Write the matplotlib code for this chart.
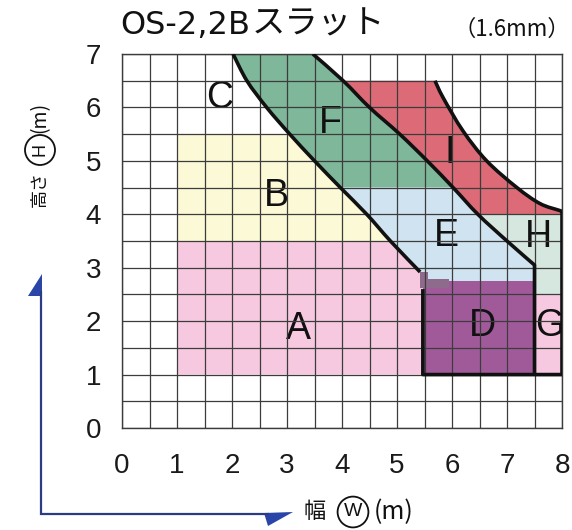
import matplotlib
matplotlib.use("Agg")
import matplotlib.pyplot as plt
from matplotlib.path import Path
from matplotlib.patches import PathPatch
import numpy as np

# ---- chart data (width W [m], height H [m]) ----
x_ticks = [0, 1, 2, 3, 4, 5, 6, 7, 8]
y_ticks = [0, 1, 2, 3, 4, 5, 6, 7]

# lower boundary curve (C/B/A side)
line1_x = [2.02, 2.27, 2.63, 3.05, 3.50, 3.97, 4.45, 4.88, 5.42]
line1_y = [7.00, 6.50, 6.00, 5.50, 5.00, 4.50, 4.00, 3.50, 2.92]
# middle boundary curve (F/E side)
line2_x = [3.47, 4.02, 4.50, 5.05, 5.55, 6.02, 6.47, 7.00, 7.50]
line2_y = [7.00, 6.50, 6.00, 5.50, 5.00, 4.50, 4.00, 3.50, 3.05]
# outer boundary curve (I side)
line3_x = [5.69, 5.84, 6.20, 6.63, 7.18, 7.60, 7.96, 8.00]
line3_y = [6.50, 6.18, 5.56, 5.00, 4.50, 4.20, 4.07, 4.05]

w_min, w_d, w_g, w_max = 1.0, 5.47, 7.5, 8.0
h_min, h_g, h_d, h_ab, h_i_bot, h_ef, h_b, h_i_top, h_max = (
    1.0, 2.5, 2.75, 3.5, 4.0, 4.5, 5.5, 6.5, 7.0)

labels = ["A", "B", "C", "D", "E", "F", "G", "H", "I"]
label_x = [3.20, 2.80, 1.78, 6.55, 5.90, 3.78, 7.77, 7.57, 5.96]
label_y = [1.85, 4.35, 6.18, 1.90, 3.60, 5.70, 1.90, 3.58, 5.15]

colors = {
    "A": "#f7c9e0", "B": "#fcf9d6", "D": "#a05a9a", "E": "#cfe3f1",
    "F": "#7eb799", "G": "#f7c9e0", "H": "#d5e7df", "I": "#dc6b77",
}


def smooth_segments(xs, ys):
    """Cubic Bezier pieces (Catmull-Rom) through the given points."""
    P = np.column_stack([xs, ys])
    n = len(P)
    out = []
    for i in range(n - 1):
        p0 = P[i - 1] if i > 0 else P[i]
        p1, p2 = P[i], P[i + 1]
        p3 = P[i + 2] if i + 2 < n else P[i + 1]
        out.append((p1, p1 + (p2 - p0) / 6, p2 - (p3 - p1) / 6, p2))
    return out


def pick(segs, lo, hi):
    return [s for s in segs if lo <= s[0][1] <= hi and lo <= s[3][1] <= hi]


def build_path(pieces, close=True):
    verts, codes = [], []

    def goto(p):
        verts.append(tuple(p))
        codes.append(Path.MOVETO if not codes else Path.LINETO)

    for kind, data in pieces:
        if kind == "pt":
            goto(data)
        else:
            segs, rev = data
            if rev:
                segs = [(s[3], s[2], s[1], s[0]) for s in segs[::-1]]
            goto(segs[0][0])
            for s in segs:
                verts.extend([tuple(s[1]), tuple(s[2]), tuple(s[3])])
                codes.extend([Path.CURVE4] * 3)
    if close:
        verts.append(verts[0])
        codes.append(Path.CLOSEPOLY)
    return Path(verts, codes)


s1 = smooth_segments(line1_x, line1_y)
s2 = smooth_segments(line2_x, line2_y)
s3 = smooth_segments(line3_x, line3_y)

regions = {
    "A": [("pt", (w_min, h_min)), ("pt", (w_d, h_min)), ("pt", (w_d, line1_y[-1])),
          ("c", (pick(s1, 0, h_ab), True)), ("pt", (w_min, h_ab))],
    "B": [("pt", (w_min, h_ab)), ("c", (pick(s1, h_ab, h_b), True)), ("pt", (w_min, h_b))],
    "F": [("c", (pick(s2, h_ef, h_max), False)), ("c", (pick(s1, h_ef, h_max), True))],
    "E": [("c", (pick(s1, 0, h_ef), False)), ("pt", (w_d, line1_y[-1])), ("pt", (w_d, h_d)),
          ("pt", (w_g, h_d)), ("c", (pick(s2, 0, h_ef), True))],
    "D": [("pt", (w_d, h_min)), ("pt", (w_g, h_min)), ("pt", (w_g, h_d)), ("pt", (w_d, h_d))],
    "I": [("c", (s3, False)), ("pt", (w_max, h_i_bot)),
          ("c", (pick(s2, h_i_bot, h_i_top), True))],
    "H": [("pt", (w_max, h_i_bot)), ("pt", (w_max, h_g)), ("pt", (w_g, h_g)),
          ("c", (pick(s2, 0, h_i_bot), True))],
    "G": [("pt", (w_g, h_min)), ("pt", (w_max, h_min)), ("pt", (w_max, h_g)), ("pt", (w_g, h_g))],
}

W, H = 572, 530
fig = plt.figure(figsize=(W / 100, H / 100), dpi=100)
fig.patch.set_facecolor("white")

x0px, x1px, ytop, ybot = 122, 562, 54, 428
ax = fig.add_axes([x0px / W, 1 - ybot / H, (x1px - x0px) / W, (ybot - ytop) / H])
ax.set_xlim(0, 8)
ax.set_ylim(0, 7)

for key, pieces in regions.items():
    ax.add_patch(PathPatch(build_path(pieces), fc=colors[key], ec="none", lw=0, zorder=0.5))

# small step where the A/E edge meets the D block
ax.fill([5.42, 5.56, 5.56, 5.95, 5.95, 5.42], [2.92, 2.92, 2.78, 2.78, 2.62, 2.62],
        color="#8e6a8c", lw=0, zorder=0.6)

# grid every 0.5 m
ax.set_xticks(x_ticks)
ax.set_yticks(y_ticks)
ax.set_xticks(np.arange(0, 8.01, 0.5), minor=True)
ax.set_yticks(np.arange(0, 7.01, 0.5), minor=True)
ax.grid(which="both", color="#3c3c3c", lw=0.9, zorder=1)
ax.set_axisbelow(False)
for s in ax.spines.values():
    s.set_color("#3c3c3c")
    s.set_linewidth(1.0)
ax.tick_params(which="both", length=0)
ax.tick_params(axis="x", pad=18, labelsize=20, labelcolor="#1a1a1a")
ax.tick_params(axis="y", pad=15, labelsize=20, labelcolor="#1a1a1a")
for lab in ax.get_xticklabels() + ax.get_yticklabels():
    lab.set_family("Liberation Sans")

# boundary lines
lk = dict(fc="none", ec="#111111", lw=2.6, capstyle="butt", joinstyle="round", zorder=3)
ax.add_patch(PathPatch(build_path([("c", (s1, False))], close=False), **lk))
ax.add_patch(PathPatch(build_path([("c", (s2, False)), ("pt", (w_g, h_min))], close=False), **lk))
ax.add_patch(PathPatch(build_path([("c", (s3, False)), ("pt", (w_max, h_min)),
                                   ("pt", (w_d, h_min)), ("pt", (w_d, 2.60))], close=False), **lk))

for t, x, y in zip(labels, label_x, label_y):
    ax.text(x, y, t, ha="center", va="center", fontsize=27,
            family="Liberation Sans", color="#111111", zorder=2, clip_on=True)

cjk = ["Noto Sans CJK JP", "DejaVu Sans"]
ink = "#111111"

# chart title: latin part, then katakana right after it
t1 = fig.text(120 / W, 1 - 34 / H, "OS-2,2B", family="DejaVu Sans", fontsize=23,
              ha="left", va="baseline", color=ink)
fig.canvas.draw()
bb = t1.get_window_extent()
fig.text((bb.x1 + 2) / W, 1 - 34 / H, "スラット", family=cjk, fontsize=24,
         ha="left", va="baseline", color=ink)
fig.text(570 / W, 1 - 36 / H, "（1.6mm）", family=cjk, fontsize=16,
         ha="right", va="baseline", color=ink)

# vertical axis title
circ_h = dict(boxstyle="circle,pad=0.36", fc="none", ec=ink, lw=1.3)
circ_w = dict(boxstyle="circle,pad=0.32", fc="none", ec=ink, lw=1.3)
fig.text(40 / W, 1 - 189 / H, "高さ", family=cjk, fontsize=13, rotation=90,
         ha="center", va="center", color=ink)
fig.text(40 / W, 1 - 150 / H, "H", family="Liberation Sans", fontsize=13, rotation=90,
         ha="center", va="center", color=ink, bbox=circ_h)
fig.text(40 / W, 1 - 117 / H, "(m)", family=cjk, fontsize=14, rotation=90,
         ha="center", va="center", color=ink)

# horizontal axis title
fig.text(315 / W, 1 - 512 / H, "幅", family=cjk, fontsize=16,
         ha="center", va="center", color=ink)
fig.text(353 / W, 1 - 512 / H, "W", family="Liberation Sans", fontsize=14,
         ha="center", va="center", color=ink, bbox=circ_w)
fig.text(394 / W, 1 - 512 / H, "(m)", family=cjk, fontsize=18,
         ha="center", va="center", color=ink)

# axis direction arrows
ov = fig.add_axes([0, 0, 1, 1], zorder=-1)
ov.set_xlim(0, W)
ov.set_ylim(H, 0)
ov.axis("off")
navy = "#2b3c85"
ov.plot([41, 41, 268], [292, 514, 514], color=navy, lw=1.6, solid_joinstyle="miter")
ov.fill([42, 28, 42], [274, 296, 296], color="#2a45a8", lw=0)
ov.fill([264, 293, 268], [513, 512, 526], color="#2a45a8", lw=0)

fig.savefig("out.png", dpi=100)
